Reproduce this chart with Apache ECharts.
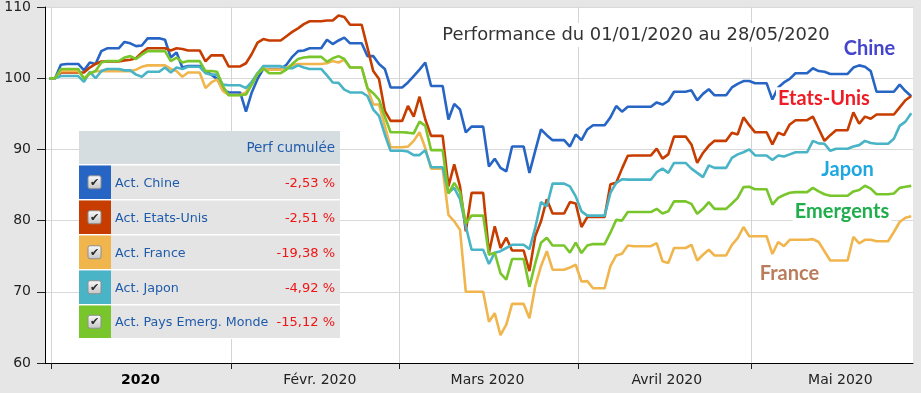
<!DOCTYPE html>
<html><head><meta charset="utf-8">
<script src="https://cdn.jsdelivr.net/npm/echarts@6/dist/echarts.min.js"></script>
<style>html,body{margin:0;padding:0;background:#e6e6e6;}#c{width:921px;height:393px;}</style>
</head><body><div id="c"></div>
<script>
// ---- data (daily values, 31/12/2019 .. 28/05/2020) ----
const firstDay = [2019, 11, 31];
const dayCount = 150;
const seriesNames = ['Act. Chine', 'Act. Etats-Unis', 'Act. France', 'Act. Japon', 'Act. Pays Emerg. Monde'];
const perfLabels = ['-2,53 %', '-2,51 %', '-19,38 %', '-4,92 %', '-15,12 %'];
const tickLabels = ['2020', 'Févr. 2020', 'Mars 2020', 'Avril 2020', 'Mai 2020'];
const yTicks = [60, 70, 80, 90, 100, 110];

const chine = [
 100,100,101.9,102,102,102,
 101.1,102.2,102.0,103.8,104.2,104.2,104.2,
 105.1,104.9,104.5,104.6,105.6,105.6,105.6,
 105.4,102.9,103.6,101.5,101.7,101.7,101.7,
 101.0,100.5,99.9,98.4,98.0,98.0,98.0,
 95.3,98.0,99.9,101.3,101.3,101.3,101.3,
 101.9,103.0,103.8,103.9,104.2,104.2,104.2,
 105.4,104.8,105.3,105.7,104.9,104.9,104.9,
 103.1,103.1,102.0,101.3,98.7,98.7,98.7,
 99.4,100.3,101.2,102.2,98.9,98.9,98.9,
 94.2,96.4,95.6,92.4,93.2,93.2,93.2,
 87.6,88.7,87.4,86.9,90.4,90.4,90.4,
 86.7,89.8,92.8,92.0,91.3,91.3,91.3,
 90.4,92.1,91.3,92.8,93.4,93.4,93.4,
 94.5,96.1,95.3,96.0,96.0,96.0,96.0,
 96.0,96.6,96.3,96.8,98.1,98.1,98.1,
 98.3,96.9,97.8,98.45,97.6,97.6,97.6,
 98.7,99.2,99.6,99.6,99.3,99.3,99.3,
 97.0,98.7,99.4,99.9,100.7,100.7,100.7,
 101.4,101.0,100.9,100.6,100.6,100.6,100.6,
 101.5,101.8,101.6,101.0,98.1,98.1,98.1,
 98.1,99.1,98.2,97.47
];
const etatsUnis = [
 100,100,100.8,100.8,100.8,100.8,
 100.8,101.5,102.0,102.35,102.35,102.35,102.35,
 102.5,102.6,102.8,103.6,104.2,104.2,104.2,
 104.2,103.9,104.2,104.1,103.9,103.9,103.9,
 102.35,103.2,103.2,103.2,101.65,101.65,101.65,
 102.1,103.4,105.0,105.5,105.3,105.3,105.3,
 105.9,106.5,107.0,107.6,108.0,108.0,108.0,
 108.1,108.1,108.8,108.6,107.5,107.5,107.5,
 104.3,101.0,99.9,95.4,94.0,94.0,94.0,
 96.1,94.6,97.4,94.2,91.9,91.9,91.9,
 84.8,87.9,84.8,78.5,83.9,83.9,83.9,
 75.45,79.2,76.15,77.6,75.8,75.8,75.8,
 72.9,77.8,79.9,83.0,81.0,81.0,81.0,
 82.6,82.4,79.1,80.5,80.5,80.5,80.5,
 85.1,85.3,87.3,89.1,89.15,89.15,89.15,
 89.15,90.1,88.7,89.3,91.8,91.8,91.8,
 90.7,88.1,89.5,90.5,91.2,91.2,91.2,
 92.35,92.1,94.5,93.4,92.4,92.4,92.4,
 90.7,92.35,92.0,93.5,94.1,94.1,94.1,
 94.6,92.9,91.2,92.0,92.7,92.7,92.7,
 95.2,93.6,94.6,94.3,94.9,94.9,94.9,
 94.9,95.9,96.9,97.49
];
const france = [
 100,100,101.0,101.0,101.0,101.0,
 100.0,100.6,101.0,101.0,101.0,101.0,101.0,
 101.0,101.0,101.2,101.6,101.8,101.8,101.8,
 101.8,101.3,101.0,100.2,100.8,100.8,100.8,
 98.6,99.4,99.85,98.2,97.65,97.65,97.65,
 98.0,99.3,100.7,101.3,101.2,101.2,101.2,
 101.5,101.8,102.0,102.0,102.0,102.0,102.0,
 102.1,102.4,102.2,102.6,101.5,101.5,101.5,
 98.6,96.3,96.3,93.3,90.3,90.3,90.3,
 90.4,91.2,92.4,90.2,87.3,87.3,87.3,
 80.8,79.9,78.7,70.0,70.0,70.0,70.0,
 65.8,67.0,63.9,65.4,68.3,68.3,68.3,
 66.3,70.75,73.6,75.7,73.1,73.1,73.1,
 73.4,73.8,71.45,71.5,70.5,70.5,70.5,
 73.6,75.1,75.35,76.5,76.4,76.4,76.4,
 76.4,76.85,74.3,74.05,76.15,76.15,76.15,
 76.6,74.4,75.2,75.9,75.1,75.1,75.1,
 76.6,77.55,79.1,77.8,77.8,77.8,77.8,
 75.3,77.0,76.4,77.3,77.3,77.3,77.3,
 77.4,77.0,75.7,74.4,74.4,74.4,74.4,
 77.7,76.8,77.3,77.3,77.1,77.1,77.1,
 78.4,79.8,80.4,80.62
];
const japon = [
 100,100,100.3,100.3,100.3,100.3,
 99.5,100.9,100.0,101.0,101.3,101.3,101.3,
 101.1,101.1,100.5,100.2,100.9,100.9,100.9,
 101.5,100.8,101.5,101.3,101.6,101.6,101.6,
 100.7,100.5,100.5,99.1,99.0,99.0,99.0,
 98.6,99.5,100.7,101.7,101.7,101.7,101.7,
 101.4,101.4,101.8,101.5,101.3,101.3,101.3,
 100.4,99.4,99.35,98.4,98.0,98.0,98.0,
 97.5,95.6,94.7,92.1,89.8,89.8,89.8,
 89.7,89.2,89.2,89.9,87.5,87.5,87.5,
 83.9,84.6,83.0,79.2,75.9,75.9,75.9,
 73.9,75.5,75.7,76.15,76.6,76.6,76.6,
 76.0,79.0,82.6,82.0,85.2,85.2,85.2,
 84.8,83.4,81.3,80.7,80.7,80.7,80.7,
 83.9,85.3,85.8,85.75,85.75,85.75,85.75,
 85.75,86.8,87.3,86.7,88.1,88.1,88.1,
 87.3,86.7,86.1,87.75,87.4,87.4,87.4,
 88.8,89.3,89.6,90.0,89.15,89.15,89.15,
 88.5,89.15,89.0,89.3,89.6,89.6,89.6,
 91.2,90.85,90.8,89.8,90.1,90.1,90.1,
 90.4,90.6,91.2,90.9,90.8,90.8,90.8,
 91.5,93.3,93.9,95.08
];
const emergents = [
 100,100,101.3,101.3,101.3,101.3,
 99.9,100.7,101.0,102.2,102.4,102.4,102.4,
 102.9,103.1,102.7,103.3,103.8,103.8,103.8,
 103.8,102.4,102.9,102.2,102.4,102.4,102.4,
 101.0,101.0,100.9,98.9,97.6,97.6,97.6,
 97.7,99.1,100.6,101.4,100.7,100.7,100.7,
 101.2,102.0,102.7,102.9,103.0,103.0,103.0,
 102.3,102.8,103.1,102.7,101.5,101.5,101.5,
 98.6,97.9,97.0,94.6,92.4,92.4,92.4,
 92.35,92.25,93.9,93.3,89.9,89.9,89.9,
 83.8,85.3,84.0,79.6,80.7,80.7,80.7,
 75.2,75.5,72.6,71.7,74.6,74.6,74.6,
 70.7,74.0,76.9,77.6,76.5,76.5,76.5,
 75.5,76.9,75.45,76.5,76.7,76.7,76.7,
 78.3,80.1,80.0,81.2,81.2,81.2,81.2,
 81.2,81.65,81.0,81.3,82.7,82.7,82.7,
 82.35,80.95,81.65,82.6,81.65,81.65,81.65,
 82.4,83.2,84.7,84.75,84.4,84.4,84.4,
 82.25,83.2,83.6,83.9,84.0,84.0,84.0,
 84.6,84.1,83.7,83.5,83.5,83.5,83.5,
 84.1,84.3,84.9,84.5,83.7,83.7,83.7,
 83.8,84.6,84.75,84.88
];
const seriesValues = [chine, etatsUnis, france, japon, emergents];
const seriesColors = ['#2765c5', '#c73d00', '#f0b54d', '#49b4c6', '#79c62c'];

// ---- build ----
const dates = [];
for (let d = 0; d < dayCount; d++) dates.push(Date.UTC(firstDay[0], firstDay[1], firstDay[2] + d, 14));
const monthStarts = [0, 1, 2, 3, 4].map(m => Date.UTC(2020, m, 1));
const labelPos = [0, 1, 2, 3, 4].map(m => Date.UTC(2020, m, 16, 8));
const FONT = 'DejaVu Sans';

const series = seriesNames.map((name, i) => ({
  name: name, type: 'line', showSymbol: false, symbol: 'none',
  data: dates.map((t, k) => [t, seriesValues[i][k]]),
  lineStyle: { width: 2.6, color: seriesColors[i] },
  itemStyle: { color: seriesColors[i] },
  z: 3 + i
}));

const graphics = [];
const T = { x: 79, y: 131, w: 261, head: 33, pitch: 35, rowH: 33.5, sw: 32 };
graphics.push({ type: 'rect', z: 100, shape: { x: T.x, y: T.y, width: T.w, height: T.head + 5 * T.pitch }, style: { fill: '#ffffff' } });
graphics.push({ type: 'rect', z: 101, shape: { x: T.x, y: T.y, width: T.w, height: T.head }, style: { fill: '#d6dde1' } });
graphics.push({ type: 'text', z: 102, x: T.x + T.w - 5, y: T.y + T.head / 2 + 0.5,
  style: { text: 'Perf cumulée', fill: '#1f5bab', fontSize: 13.5, fontFamily: FONT, align: 'right', verticalAlign: 'middle' } });
seriesNames.forEach((name, i) => {
  const top = T.y + T.head + 1.5 + i * T.pitch;
  const h = i === 4 ? T.rowH - 1 : T.rowH;
  const mid = top + h / 2;
  graphics.push({ type: 'rect', z: 101, shape: { x: T.x, y: top, width: T.w, height: h }, style: { fill: '#e4e4e4' } });
  graphics.push({ type: 'rect', z: 102, shape: { x: T.x, y: top, width: T.sw, height: h }, style: { fill: seriesColors[i] } });
  graphics.push({ type: 'rect', z: 103, shape: { x: T.x + 9, y: mid - 6.5, width: 13, height: 13, r: 2 },
    style: { fill: { type: 'linear', x: 0, y: 0, x2: 0, y2: 1, colorStops: [{ offset: 0, color: '#fbfbfb' }, { offset: 1, color: '#c4c4c4' }] }, stroke: '#8e8e8e', lineWidth: 1 } });
  graphics.push({ type: 'text', z: 104, x: T.x + 15.5, y: mid + 0.5,
    style: { text: '✔', fill: '#2a2a2a', fontSize: 11, fontFamily: FONT, align: 'center', verticalAlign: 'middle' } });
  graphics.push({ type: 'text', z: 103, x: T.x + 36, y: mid + 1,
    style: { text: name, fill: '#1f5bab', fontSize: 12.7, fontFamily: FONT, align: 'left', verticalAlign: 'middle' } });
  graphics.push({ type: 'text', z: 103, x: T.x + T.w - 5, y: mid + 1,
    style: { text: perfLabels[i], fill: '#f01414', fontSize: 13, fontFamily: FONT, align: 'right', verticalAlign: 'middle' } });
});
graphics.push({ type: 'text', z: 100, x: 636, y: 35,
  style: { text: 'Performance du 01/01/2020 au 28/05/2020', fill: '#333333', fontSize: 17.9, fontFamily: FONT,
    align: 'center', verticalAlign: 'middle', backgroundColor: '#ffffff', padding: [3, 4] } });
const tags = [
  ['Chine', '#4444cc', 841.7, 48.3],
  ['Etats-Unis', '#ee1c25', 776, 98.3],
  ['Japon', '#1ea7e1', 819.3, 170],
  ['Emergents', '#1fae4b', 792.7, 211.7],
  ['France', '#b97c5c', 757.7, 273.3]
];
tags.forEach(tg => graphics.push({ type: 'text', z: 100, x: tg[2], y: tg[3],
  style: { text: tg[0], fill: tg[1], fontSize: 20, fontWeight: 'bold', fontFamily: 'Lato',
    align: 'left', verticalAlign: 'middle', backgroundColor: '#ffffff', padding: [1, 2] } }));

const chart = echarts.init(document.getElementById('c'), null, { renderer: 'canvas' });
chart.setOption({
  animation: false,
  backgroundColor: '#e6e6e6',
  grid: { left: 45, right: 8, top: 7, bottom: 30, show: true, backgroundColor: '#ffffff', borderWidth: 0 },
  xAxis: {
    type: 'value',
    min: Date.UTC(2019, 11, 30, 20, 12),
    max: Date.UTC(2020, 4, 28, 21, 20),
    axisLine: { show: true, onZero: false, lineStyle: { color: '#000', width: 1 } },
    axisTick: { show: true, customValues: monthStarts, length: 6, lineStyle: { color: '#222' } },
    splitLine: { show: true, lineStyle: { color: '#d4d4d4', width: 1 } },
    axisLabel: {
      customValues: labelPos, margin: 10, fontSize: 14, fontFamily: FONT, color: '#222',
      formatter: function (v) {
        let k = 0, best = Infinity;
        labelPos.forEach((p, j) => { const dd = Math.abs(p - v); if (dd < best) { best = dd; k = j; } });
        return k === 0 ? '{b|' + tickLabels[0] + '}' : tickLabels[k];
      },
      rich: { b: { fontWeight: 'bold', fontSize: 14, fontFamily: FONT, color: '#000' } }
    }
  },
  yAxis: {
    type: 'value', min: yTicks[0], max: yTicks[yTicks.length - 1], interval: 10,
    axisLine: { show: true, lineStyle: { color: '#000', width: 1 } },
    axisTick: { show: true, length: 8, lineStyle: { color: '#222' } },
    splitLine: { show: true, lineStyle: { color: '#d9d9d9', width: 1 } },
    axisLabel: { margin: 14, fontSize: 14, fontFamily: FONT, color: '#222' }
  },
  series: series,
  graphic: { elements: graphics }
});
</script>
</body></html>
